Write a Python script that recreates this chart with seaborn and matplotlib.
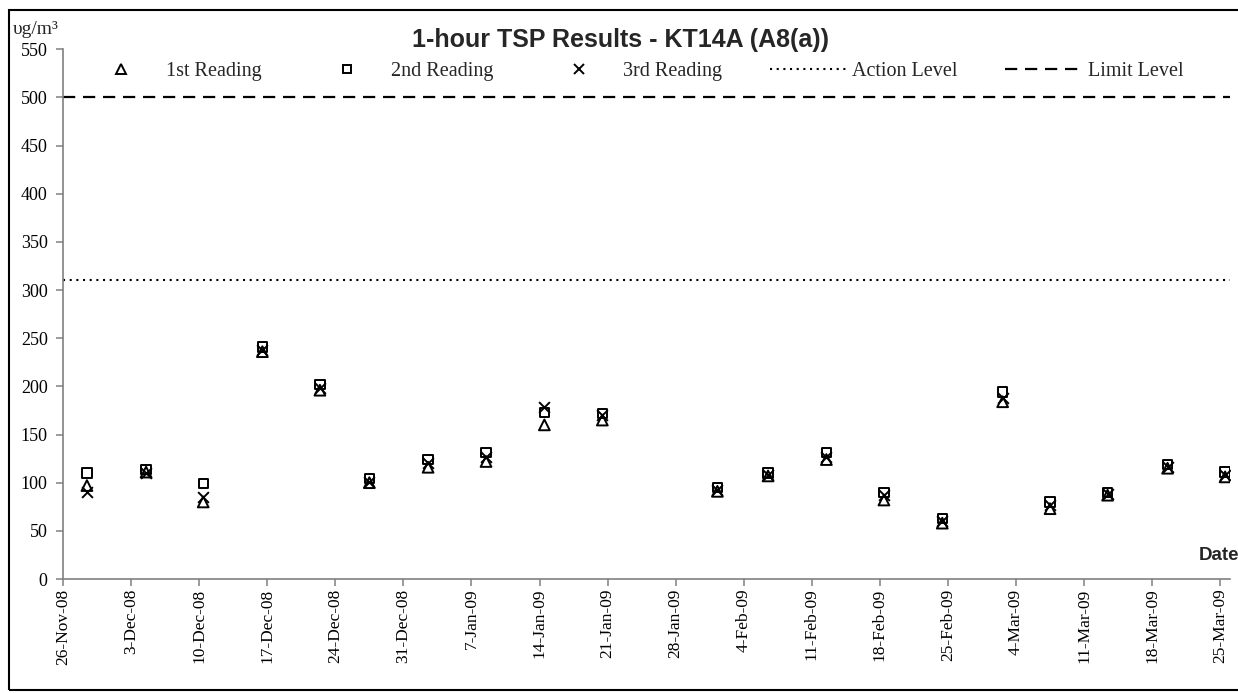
import pandas as pd
import matplotlib.pyplot as plt
import seaborn as sns
from matplotlib.lines import Line2D
from matplotlib.patches import Rectangle

# sampling times
dates = [
    "2008-11-28 11:00", "2008-12-04 13:00", "2008-12-10 10:00", "2008-12-16 12:00",
    "2008-12-22 10:00", "2008-12-27 12:00", "2009-01-02 13:00", "2009-01-08 12:00",
    "2009-01-14 12:00", "2009-01-20 11:00", "2009-02-01 07:00", "2009-02-06 12:00",
    "2009-02-12 12:00", "2009-02-18 10:00", "2009-02-24 10:00", "2009-03-02 15:00",
    "2009-03-07 12:00", "2009-03-13 10:00", "2009-03-19 14:00", "2009-03-25 12:00",
]
reading_1 = [97, 111, 80, 236, 196, 100, 116, 122, 160, 165,
             91, 107, 124, 82, 58, 184, 73, 87, 115, 106]
reading_2 = [110, 114, 99, 241, 202, 104, 124, 131, 173, 172,
             95, 110, 131, 90, 63, 194, 80, 90, 119, 111]
reading_3 = [90, 110, 85, 238, 198, 101, 120, 127, 179, 170,
             92, 108, 127, 87, 60, 188, 77, 88, 116, 108]

action_level = 310
limit_level = 500

tick_start = "2008-11-26"
tick_end = "2009-03-25"
x_max = "2009-03-26"

data = pd.DataFrame({
    "Date": pd.to_datetime(dates),
    "1st Reading": reading_1,
    "2nd Reading": reading_2,
    "3rd Reading": reading_3,
})
long_data = data.melt(id_vars="Date", var_name="Reading", value_name="TSP")

sns.set_style("white")
serif = ["Liberation Serif", "DejaVu Serif"]
sans = ["Liberation Sans", "DejaVu Sans"]

fig = plt.figure(figsize=(12.38, 6.93), dpi=100)
ax = fig.add_axes([0.0509, 0.1645, 0.9426, 0.7645])

marker_styles = {
    "1st Reading": "^",
    "2nd Reading": "s",
    "3rd Reading": "x",
}
marker_sizes = {"1st Reading": 60, "2nd Reading": 45, "3rd Reading": 60}

# seaborn won't mix filled and line markers in one call, so one call per reading
for name, mk in marker_styles.items():
    part = long_data[long_data["Reading"] == name]
    if mk == "x":
        sns.scatterplot(data=part, x="Date", y="TSP", marker=mk, color="black",
                        s=marker_sizes[name], linewidth=1.4, ax=ax, legend=False)
    else:
        sns.scatterplot(data=part, x="Date", y="TSP", marker=mk, facecolor="none",
                        edgecolor="black", s=marker_sizes[name], linewidth=1.4,
                        ax=ax, legend=False)

dotted = (0, (1, 2.2))
dashed = (0, (5.5, 3.5))
ax.axhline(action_level, color="black", lw=1.5, linestyle=dotted, clip_on=False)
ax.axhline(limit_level, color="black", lw=1.6, linestyle=dashed, clip_on=False)

ax.set_ylim(0, 550)
ax.set_yticks(range(0, 551, 50))
ax.set_xlim(pd.Timestamp(tick_start), pd.Timestamp(x_max))
ticks = pd.date_range(tick_start, tick_end, freq="7D")
ax.set_xticks(ticks)
ax.set_xticklabels([f"{d.day}-{d.strftime('%b-%y')}" for d in ticks],
                   rotation=90, family=serif, fontsize=12.5)
for lab in ax.get_yticklabels():
    lab.set_family(serif)
    lab.set_fontsize(13)

ax.set_xlabel("")
ax.set_ylabel("")
sns.despine(ax=ax)
for side in ["left", "bottom"]:
    ax.spines[side].set_color("#808080")
    ax.spines[side].set_linewidth(1.2)
ax.tick_params(axis="both", direction="out", length=5, width=1.1, color="#808080",
               labelcolor="black", left=True, bottom=True)
ax.tick_params(axis="y", pad=6)
ax.tick_params(axis="x", pad=2)

# legend along the top
handles = [
    Line2D([], [], marker="^", color="black", markerfacecolor="none", markersize=7,
           markeredgewidth=1.4, linestyle="none", label="1st Reading"),
    Line2D([], [], marker="s", color="black", markerfacecolor="none", markersize=6,
           markeredgewidth=1.4, linestyle="none", label="2nd Reading"),
    Line2D([], [], marker="x", color="black", markersize=7, markeredgewidth=1.4,
           linestyle="none", label="3rd Reading"),
    Line2D([], [], color="black", lw=1.5, linestyle=dotted, label="Action Level"),
    Line2D([], [], color="black", lw=1.6, linestyle=dashed, label="Limit Level"),
]
fig.legend(handles=handles, loc="center", bbox_to_anchor=(0.5115, 0.897), ncol=5,
           frameon=False, prop={"family": serif, "size": 14.5}, handlelength=3.8,
           handletextpad=0.3, columnspacing=2.35)

fig.text(0.501, 0.943, "1-hour TSP Results - KT14A (A8(a))", ha="center", va="center",
         fontsize=18, fontweight="bold", family=sans)
fig.text(0.010, 0.957, "υg/m³", ha="left", va="center", fontsize=14, family=serif)
fig.text(0.9685, 0.199, "Date", ha="left", va="center", fontsize=13.5,
         fontweight="bold", family=sans)

fig.patches.append(Rectangle((0.0073, 0.004), 1.05, 0.9816, transform=fig.transFigure,
                             fill=False, edgecolor="black", lw=1.5))

fig.savefig("out.png", dpi=100)
